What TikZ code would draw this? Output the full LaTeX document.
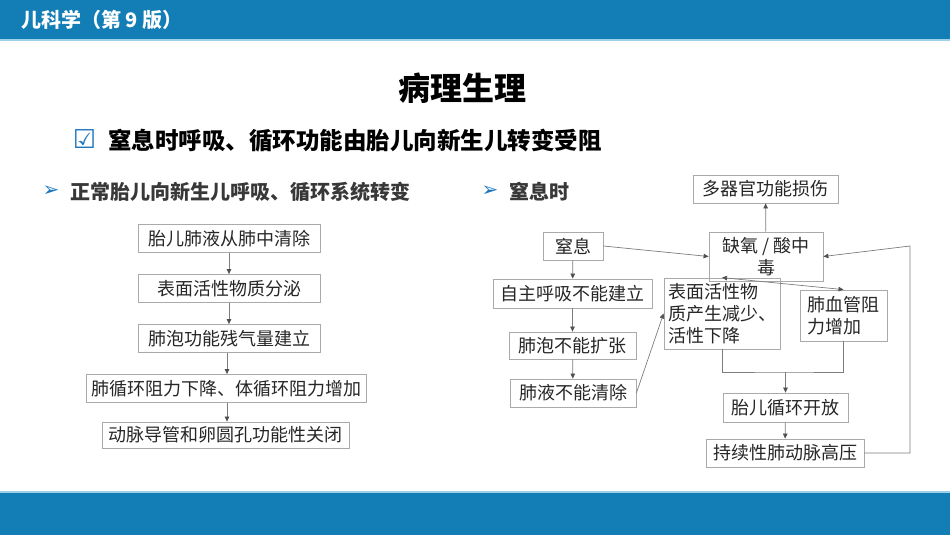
\documentclass[tikz,border=0pt]{standalone}
\usepackage{fontspec}
\usetikzlibrary{arrows.meta}
\newfontfamily\cjk{Noto Sans CJK SC}
\newfontfamily\dejavu{DejaVu Sans}
\definecolor{barblue}{RGB}{19,125,182}
\definecolor{barline}{RGB}{158,208,234}
\definecolor{boxline}{RGB}{170,170,170}
\definecolor{boxtext}{RGB}{38,38,38}
\definecolor{linkgray}{RGB}{125,125,125}
\definecolor{tipgray}{RGB}{80,80,80}
\definecolor{markblue}{RGB}{30,118,188}

\begin{document}
\begin{tikzpicture}[x=1pt,y=-1pt,
    box/.style={draw=boxline,line width=0.8pt,text=boxtext,inner xsep=4pt,inner ysep=2pt,
      minimum height=28pt,font=\cjk\fontsize{18}{22}\selectfont},
    conn/.style={draw=linkgray,line width=0.7pt,-{Triangle[length=5pt,width=4.5pt,color=tipgray]}},
    heading/.style={anchor=west,inner sep=0pt,text=black!78,font=\cjk\bfseries\fontsize{20}{24}\selectfont},
    bullet/.style={text=markblue,inner sep=0pt,font=\dejavu\fontsize{20}{24}\selectfont}]
    \useasboundingbox (0,0) rectangle (950,535);
    \fill[barblue] (0,0) rectangle (950,39);
    \fill[barline] (0,39) rectangle (950,41);
    \fill[barline] (0,491) rectangle (950,492.5);
    \fill[barblue] (0,492.5) rectangle (950,535);
    \node[anchor=west,inner sep=0pt,text=white,font=\cjk\bfseries\fontsize{20}{24}\selectfont] (hdr) at (21,20) {儿科学（第 9 版）};

    \node[font=\cjk\bfseries\fontsize{32}{36}\selectfont] (title) at (462,88) {病理生理};
    \node[inner sep=0pt,text=markblue,font=\dejavu\bfseries\fontsize{26}{28}\selectfont] (chk) at (84.5,139) {☑};
    \node[anchor=west,inner sep=0pt,font=\cjk\bfseries\fontsize{23.5}{28}\selectfont] (sub) at (108,141) {窒息时呼吸、循环功能由胎儿向新生儿转变受阻};
    \node[bullet] (b1) at (51,191) {➢};
    \node[heading] (h1) at (70,192) {正常胎儿向新生儿呼吸、循环系统转变};
    \node[bullet] (b2) at (490,191) {➢};
    \node[heading] (h2) at (509,192) {窒息时};

    \node[box,minimum width=182pt] (n1) at (229,238.5) {胎儿肺液从肺中清除};
    \node[box,minimum width=182pt] (n2) at (229,288.5) {表面活性物质分泌};
    \node[box,minimum width=182pt] (n3) at (229,338.5) {肺泡功能残气量建立};
    \node[box,minimum width=280pt] (n4) at (226,388.5) {肺循环阻力下降、体循环阻力增加};
    \node[box,minimum width=247pt,minimum height=26pt] (n5) at (225.5,435) {动脉导管和卵圆孔功能性关闭};
    \path (n1) edge[conn] (n2);
    \path (n2) edge[conn] (n3);
    \path (n3.south -| 227,0) edge[conn] (n4.north -| 227,0);
    \path (n4.south -| 227,0) edge[conn] (n5.north -| 227,0);

    \node[box,minimum width=60pt] (r0) at (573,246) {窒息};
    \node[box,minimum width=159pt,minimum height=29pt] (r1) at (572.5,293.5) {自主呼吸不能建立};
    \node[box,minimum width=127pt,minimum height=27pt] (r2) at (572.5,345.5) {肺泡不能扩张};
    \node[box,minimum width=126pt] (r3) at (573,393) {肺液不能清除};
    \node[box,minimum width=145pt] (m) at (765.5,189) {多器官功能损伤};
    \node[box,align=left,minimum width=116pt,minimum height=71pt] (s) at (722,313.5) {表面活性物\\质产生减少、\\活性下降};
    \node[box,align=center,minimum width=114pt,minimum height=49pt] (h) at (766,256.5) {缺氧 / 酸中\\毒};
    \node[box,align=left,inner xsep=7.5pt,minimum width=87pt,minimum height=51pt] (v) at (843.5,315.5) {肺血管阻\\力增加};
    \node[box,minimum width=125pt,minimum height=29pt] (f) at (785.5,407.5) {胎儿循环开放};
    \node[box,minimum width=158pt] (p) at (785,453) {持续性肺动脉高压};
    \coordinate (fb) at (910,246);
    \coordinate (j) at (785.5,372);
    \path (r0) edge[conn] (r1);
    \path (r1) edge[conn] (r2);
    \path (r2) edge[conn] (r3);
    \path (r3.east) edge[conn] (s.west);
    \path (r0.east) edge[conn] (h.west);
    \path (h) edge[conn] (m);
    \draw[conn] (p.east) -| (fb) -- (h.east);
    \draw[conn,{Triangle[length=5pt,width=4.5pt,color=tipgray]}-{Triangle[length=5pt,width=4.5pt,color=tipgray]}] (s.north) -- (v.north);
    \draw[draw=linkgray,line width=0.7pt] (s.south) |- (j) -| (v.south);
    \path (j) edge[conn] (f);
    \path (f) edge[conn] (p);
  \end{tikzpicture}
\end{document}
